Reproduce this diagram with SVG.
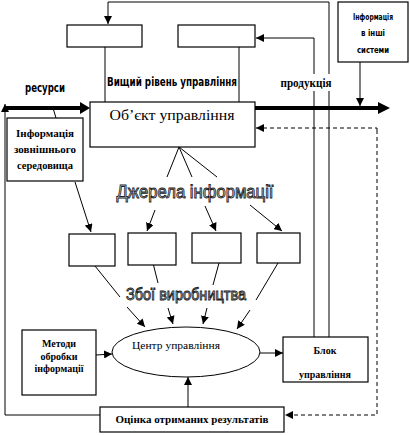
<svg xmlns="http://www.w3.org/2000/svg" width="410" height="435" viewBox="0 0 410 435">
<defs>
<marker id="ah" viewBox="0 0 10 10" refX="10" refY="5" markerWidth="8" markerHeight="8" markerUnits="userSpaceOnUse" orient="auto"><path d="M0,0 L10,5 L0,10 z" fill="#000"/></marker>
</defs>
<style>
.box{fill:#fff;stroke:#000;stroke-width:1.2}
.ln{fill:none;stroke:#000;stroke-width:1}
.thick{fill:none;stroke:#000;stroke-width:4}
.dash{fill:none;stroke:#000;stroke-width:1;stroke-dasharray:4,3}
.nar{font-family:"DejaVu Sans Condensed","Liberation Sans",Arial,sans-serif;font-weight:bold;fill:#000}
.ser{font-family:"Liberation Serif","Times New Roman",serif;fill:#000}
.wa{font-family:"Liberation Sans",Arial,sans-serif;fill:#e8e8e8;stroke:#222;stroke-width:0.9}
</style>
<g id="connectors">
<polyline class="ln" points="329,337 329,2 108,2 108,24" marker-end="url(#ah)"/>
<polyline class="ln" points="314,337 314,38 256,38" marker-end="url(#ah)"/>
<line class="ln" x1="105" y1="47" x2="105" y2="102"/>
<line class="ln" x1="239" y1="47" x2="239" y2="102"/>
<line class="thick" x1="5" y1="108" x2="82" y2="108"/>
<path d="M80,102 L90,108 L80,114 z" fill="#000"/>
<line class="thick" x1="255" y1="108" x2="380" y2="108"/>
<path d="M378,102 L390,108 L378,114 z" fill="#000"/>
<line class="ln" x1="5" y1="415" x2="5" y2="104" marker-end="url(#ah)"/>
<line class="ln" x1="5" y1="415" x2="100" y2="415"/>
<line class="ln" x1="53" y1="108" x2="56" y2="118"/>
<line class="ln" x1="360" y1="62" x2="360" y2="106" marker-end="url(#ah)"/>
<polyline class="dash" points="377,130 377,415 285,415" marker-end="url(#ah)"/>
<polyline class="dash" points="377,130 377,128 256,128" marker-end="url(#ah)"/>
<line class="ln" x1="179" y1="147" x2="167" y2="177"/>
<line class="ln" x1="179" y1="147" x2="192" y2="177"/>
<line class="ln" x1="179" y1="147" x2="217" y2="177"/>
<line class="ln" x1="75" y1="182" x2="91" y2="232" marker-end="url(#ah)"/>
<line class="ln" x1="155" y1="210" x2="147" y2="231" marker-end="url(#ah)"/>
<line class="ln" x1="205" y1="206" x2="216" y2="231" marker-end="url(#ah)"/>
<line class="ln" x1="250" y1="205" x2="282" y2="231" marker-end="url(#ah)"/>
<line class="ln" x1="95" y1="266" x2="120" y2="297"/>
<line class="ln" x1="153" y1="263" x2="158" y2="283"/>
<line class="ln" x1="219" y1="263" x2="213" y2="285"/>
<line class="ln" x1="278" y1="263" x2="256" y2="300"/>
<line class="ln" x1="127" y1="307" x2="145" y2="327" marker-end="url(#ah)"/>
<line class="ln" x1="168" y1="308" x2="173" y2="324" marker-end="url(#ah)"/>
<line class="ln" x1="207" y1="308" x2="203" y2="324" marker-end="url(#ah)"/>
<line class="ln" x1="250" y1="310" x2="237" y2="329" marker-end="url(#ah)"/>
<line class="ln" x1="96" y1="355" x2="112" y2="354" marker-end="url(#ah)"/>
<line class="ln" x1="260" y1="353" x2="283" y2="353" marker-end="url(#ah)"/>
<line class="ln" x1="188" y1="407" x2="188" y2="377" marker-end="url(#ah)"/>
</g>
<g id="top-box-1"><rect class="box" x="67" y="25" width="75" height="22"/></g>
<g id="top-box-2"><rect class="box" x="178" y="25" width="77" height="22"/></g>
<g id="label-vyshchyi"><text class="nar" x="172" y="86" font-size="13" text-anchor="middle" textLength="130" lengthAdjust="spacingAndGlyphs">Вищий рівень управління</text></g>
<g id="label-resursy"><text class="nar" x="45" y="92" font-size="12" text-anchor="middle" textLength="40" lengthAdjust="spacingAndGlyphs">ресурси</text></g>
<g id="label-produktsiia"><rect x="278" y="74" width="56" height="17" fill="#fff"/><text class="ser" font-weight="bold" x="306" y="87" font-size="12" text-anchor="middle" textLength="51" lengthAdjust="spacingAndGlyphs">продукція</text></g>
<g id="info-other">
<rect class="box" x="338" y="2" width="70" height="60"/>
<text class="nar" font-size="9" text-anchor="middle"><tspan x="373" y="20" textLength="40" lengthAdjust="spacingAndGlyphs">Інформація</tspan><tspan x="373" y="36" textLength="24" lengthAdjust="spacingAndGlyphs">в інші</tspan><tspan x="373" y="53" textLength="32" lengthAdjust="spacingAndGlyphs">системи</tspan></text>
</g>
<g id="object"><rect class="box" x="90" y="102" width="165" height="45"/>
<text class="ser" x="172" y="120" font-size="14" text-anchor="middle" textLength="125" lengthAdjust="spacingAndGlyphs">Об’єкт управління</text></g>
<g id="info-env"><rect class="box" x="7" y="118" width="76" height="63"/>
<text class="ser" font-weight="bold" font-size="11" text-anchor="middle"><tspan x="45" y="137" textLength="58" lengthAdjust="spacingAndGlyphs">Інформація</tspan><tspan x="45" y="153" textLength="62" lengthAdjust="spacingAndGlyphs">зовнішнього</tspan><tspan x="45" y="169" textLength="56" lengthAdjust="spacingAndGlyphs">середовища</tspan></text></g>
<g id="label-dzherela"><text class="wa" x="195" y="198" font-size="18" text-anchor="middle" textLength="157" lengthAdjust="spacingAndGlyphs">Джерела інформації</text></g>
<g id="box-a"><rect class="box" x="69" y="234" width="46" height="32"/></g>
<g id="box-b"><rect class="box" x="128" y="233" width="48" height="32"/></g>
<g id="box-c"><rect class="box" x="192" y="233" width="49" height="30"/></g>
<g id="box-d"><rect class="box" x="257" y="233" width="43" height="30"/></g>
<g id="label-zboi"><text class="wa" x="186" y="300" font-size="16" text-anchor="middle" textLength="120" lengthAdjust="spacingAndGlyphs">Збої виробництва</text></g>
<g id="center"><ellipse cx="186" cy="352" rx="74" ry="25" fill="#fff" stroke="#000" stroke-width="1"/>
<text class="ser" x="176" y="349" font-size="10" text-anchor="middle" textLength="88" lengthAdjust="spacingAndGlyphs">Центр управління</text></g>
<g id="methods"><rect class="box" x="22" y="330" width="74" height="65"/>
<text class="ser" font-weight="bold" font-size="10" text-anchor="middle"><tspan x="59" y="347">Методи</tspan><tspan x="59" y="360">обробки</tspan><tspan x="59" y="372">інформації</tspan></text></g>
<g id="block"><rect class="box" x="283" y="337" width="85" height="45"/>
<text class="ser" font-weight="bold" font-size="10" text-anchor="middle"><tspan x="325" y="354">Блок</tspan><tspan x="325" y="378">управління</tspan></text></g>
<g id="evaluation"><rect class="box" x="100" y="407" width="184" height="25"/>
<text class="ser" font-weight="bold" x="192" y="423" font-size="11" text-anchor="middle">Оцінка отриманих результатів</text></g>
</svg>
